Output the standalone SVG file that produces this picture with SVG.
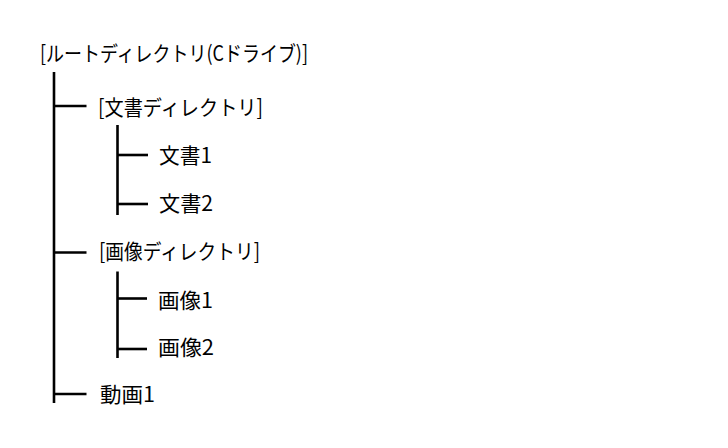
<svg xmlns="http://www.w3.org/2000/svg" width="728" height="448" viewBox="0 0 728 448">
<style>
text{font-family:"Noto Sans CJK JP","Noto Sans",sans-serif;font-size:21px;fill:#000}
.c line{stroke:#000;stroke-width:2.6;fill:none}
</style>
<rect width="728" height="448" fill="#fff"/>
<g id="connectors" class="c">
<line x1="54" y1="72" x2="54" y2="403"/>
<line x1="54" y1="106" x2="86.5" y2="106"/>
<line x1="54" y1="252.5" x2="86.5" y2="252.5"/>
<line x1="54" y1="394" x2="86.5" y2="394"/>
<line x1="117.5" y1="125" x2="117.5" y2="215"/>
<line x1="117.5" y1="155" x2="148" y2="155"/>
<line x1="117.5" y1="204" x2="148" y2="204"/>
<line x1="117.5" y1="271.5" x2="117.5" y2="358"/>
<line x1="117.5" y1="298.5" x2="147" y2="298.5"/>
<line x1="117.5" y1="349" x2="147" y2="349"/>
</g>
<g id="root"><text x="40" y="60.5" textLength="268" lengthAdjust="spacingAndGlyphs">[ルートディレクトリ(Cドライブ)]</text></g>
<g id="docdir"><text x="98" y="115" textLength="165" lengthAdjust="spacingAndGlyphs">[文書ディレクトリ]</text></g>
<g id="doc1"><text x="159" y="162.5" textLength="53" lengthAdjust="spacingAndGlyphs">文書1</text></g>
<g id="doc2"><text x="159" y="210.5" textLength="54" lengthAdjust="spacingAndGlyphs">文書2</text></g>
<g id="imgdir"><text x="99" y="259" textLength="161" lengthAdjust="spacingAndGlyphs">[画像ディレクトリ]</text></g>
<g id="img1"><text x="158" y="307.5" textLength="55" lengthAdjust="spacingAndGlyphs">画像1</text></g>
<g id="img2"><text x="158" y="354.5" textLength="56" lengthAdjust="spacingAndGlyphs">画像2</text></g>
<g id="video1"><text x="100" y="401.5" textLength="55" lengthAdjust="spacingAndGlyphs">動画1</text></g>
</svg>
